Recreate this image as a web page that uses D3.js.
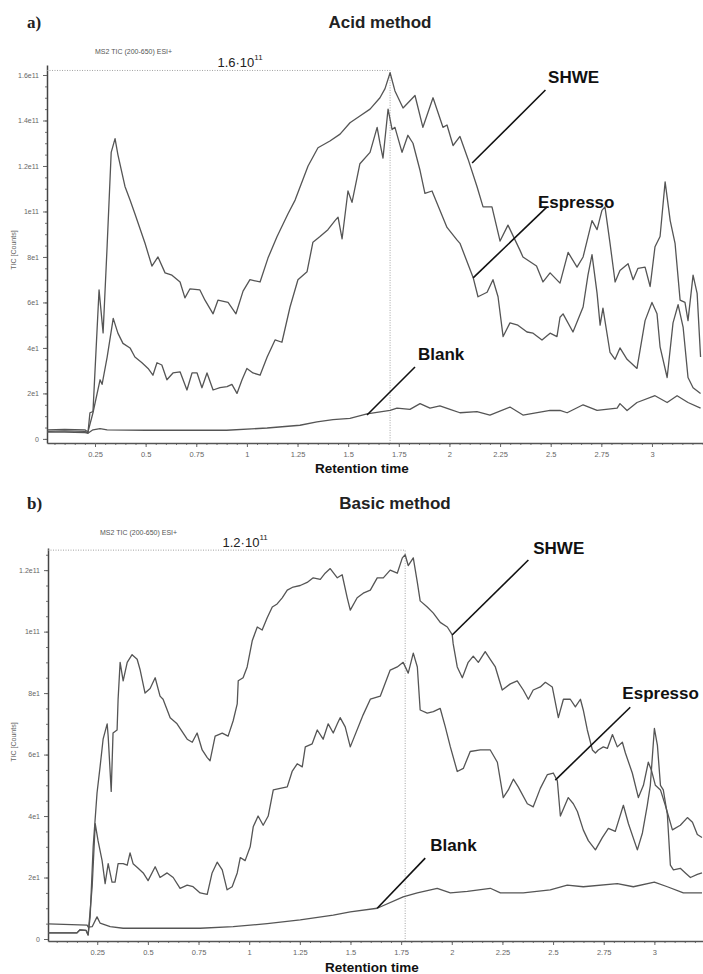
<!DOCTYPE html>
<html>
<head>
<meta charset="utf-8">
<script src="https://cdn.jsdelivr.net/npm/d3@7"></script>
<style>
  body { margin: 0; background: #fff; }
  svg { display: block; }
</style>
</head>
<body>
<script>
// chromatograms (retention time, TIC in 1e10 counts)

var acidShwe = [
  [0.013,0.33],[0.1,0.35],[0.2,0.33],[0.215,0.25],[0.225,1.15],[0.24,1.2],[0.27,6.55],[0.29,4.66],
  [0.31,8.5],[0.33,12.6],[0.349,13.2],[0.363,12.5],[0.398,11.1],[0.423,10.5],[0.447,9.9],[0.497,8.6],
  [0.531,7.6],[0.561,8.0],[0.596,7.3],[0.63,7.2],[0.67,6.9],[0.694,6.2],[0.719,6.6],[0.768,6.55],
  [0.793,6.1],[0.833,5.5],[0.857,6.1],[0.907,6.0],[0.946,5.5],[0.981,6.5],[1.015,7.0],[1.065,6.9],
  [1.104,7.95],[1.149,8.9],[1.203,9.9],[1.238,10.5],[1.302,12.0],[1.351,12.8],[1.41,13.1],[1.46,13.4],
  [1.509,13.9],[1.558,14.2],[1.608,14.5],[1.657,15.0],[1.682,15.4],[1.707,16.1],[1.731,15.3],[1.771,14.55],
  [1.83,15.1],[1.869,13.7],[1.919,15.0],[1.968,13.7],[1.988,13.8],[2.018,12.9],[2.052,13.3],[2.092,12.3],
  [2.136,11.1],[2.166,10.2],[2.21,10.2],[2.25,8.7],[2.289,9.4],[2.348,8.3],[2.363,8.0],[2.43,7.6],
  [2.462,6.9],[2.497,7.3],[2.546,6.85],[2.586,8.2],[2.63,7.55],[2.66,8.0],[2.704,9.6],[2.729,9.2],
  [2.753,10.05],[2.768,10.2],[2.793,8.6],[2.818,6.9],[2.842,7.4],[2.882,7.7],[2.907,7.0],[2.931,7.5],
  [2.966,7.55],[2.991,6.7],[3.015,8.45],[3.04,8.9],[3.065,11.3],[3.09,9.6],[3.114,8.6],[3.139,6.1],
  [3.163,6.0],[3.178,5.2],[3.203,7.2],[3.223,6.4],[3.24,3.6]
];

var acidEspresso = [
  [0.013,0.4],[0.1,0.42],[0.2,0.4],[0.215,0.3],[0.24,1.15],[0.275,2.6],[0.285,2.4],[0.31,3.6],
  [0.34,5.3],[0.363,4.65],[0.388,4.2],[0.423,4.0],[0.447,3.6],[0.482,3.35],[0.512,3.1],[0.536,2.8],
  [0.556,3.35],[0.58,3.25],[0.605,2.6],[0.635,2.9],[0.67,2.95],[0.704,2.15],[0.729,2.9],[0.754,2.9],
  [0.778,2.25],[0.803,2.9],[0.833,2.15],[0.867,2.25],[0.902,2.3],[0.926,2.4],[0.951,2.0],[0.976,2.6],
  [1.0,3.1],[1.03,2.9],[1.065,2.8],[1.1,3.6],[1.139,4.35],[1.173,4.25],[1.213,5.8],[1.252,7.0],
  [1.297,7.35],[1.326,8.65],[1.361,8.9],[1.4,9.2],[1.435,9.6],[1.45,9.75],[1.47,8.8],[1.499,10.9],
  [1.519,10.4],[1.558,12.1],[1.608,12.6],[1.643,13.7],[1.657,13.0],[1.672,12.35],[1.697,14.5],[1.717,13.6],
  [1.731,13.7],[1.766,12.6],[1.795,13.35],[1.82,13.0],[1.855,11.8],[1.879,10.8],[1.914,10.9],[1.953,10.05],
  [1.988,9.3],[2.037,8.75],[2.052,8.6],[2.117,7.1],[2.141,6.25],[2.186,6.45],[2.215,7.0],[2.24,6.25],
  [2.265,4.5],[2.299,5.1],[2.338,5.0],[2.383,4.7],[2.413,4.65],[2.457,4.35],[2.497,4.65],[2.531,4.5],
  [2.546,5.35],[2.561,5.5],[2.61,4.7],[2.66,5.8],[2.684,7.2],[2.704,8.1],[2.729,6.4],[2.744,5.0],
  [2.758,5.75],[2.793,3.8],[2.818,3.5],[2.842,4.0],[2.877,3.5],[2.926,3.1],[2.966,5.2],[3.0,6.0],
  [3.025,5.5],[3.04,4.05],[3.075,2.7],[3.104,5.1],[3.129,5.9],[3.154,4.9],[3.178,2.7],[3.203,2.25],
  [3.24,2.0]
];

var acidBlank = [
  [0.013,0.3],[0.1,0.3],[0.2,0.28],[0.215,0.25],[0.24,0.4],[0.275,0.45],[0.31,0.4],[0.5,0.38],
  [0.9,0.38],[1.1,0.48],[1.262,0.6],[1.346,0.75],[1.425,0.85],[1.509,0.9],[1.593,1.1],[1.707,1.25],
  [1.741,1.35],[1.805,1.3],[1.855,1.55],[1.904,1.35],[1.953,1.45],[2.003,1.3],[2.052,1.15],[2.136,1.2],
  [2.2,1.05],[2.299,1.4],[2.363,1.05],[2.497,1.25],[2.546,1.25],[2.581,1.15],[2.66,1.5],[2.729,1.25],
  [2.828,1.35],[2.842,1.55],[2.877,1.25],[2.926,1.6],[3.015,1.9],[3.075,1.6],[3.124,1.9],[3.178,1.6],
  [3.24,1.35]
];

var basicShwe = [
  [0.007,0.2],[0.15,0.2],[0.165,0.3],[0.195,0.28],[0.205,0.13],[0.215,0.72],[0.23,3.0],[0.249,4.75],
  [0.264,5.6],[0.279,6.5],[0.299,7.0],[0.304,6.6],[0.319,4.8],[0.328,6.7],[0.348,6.8],[0.353,7.8],
  [0.363,9.0],[0.378,8.4],[0.398,9.0],[0.422,9.25],[0.447,9.1],[0.462,8.75],[0.486,8.0],[0.511,8.15],
  [0.536,8.5],[0.56,7.9],[0.575,7.8],[0.61,7.2],[0.644,7.0],[0.694,6.5],[0.719,6.4],[0.743,6.7],
  [0.768,6.15],[0.793,5.9],[0.807,5.8],[0.832,6.6],[0.867,6.7],[0.896,6.6],[0.921,7.1],[0.941,7.65],
  [0.946,8.4],[0.97,8.5],[0.99,8.85],[1.015,9.7],[1.04,10.15],[1.064,10.05],[1.089,10.45],[1.114,10.8],
  [1.138,10.9],[1.163,11.1],[1.188,11.35],[1.217,11.45],[1.252,11.5],[1.286,11.6],[1.316,11.75],[1.351,11.7],
  [1.375,11.9],[1.4,12.05],[1.435,11.75],[1.459,11.85],[1.484,11.1],[1.499,10.7],[1.533,11.1],[1.563,11.25],
  [1.598,11.35],[1.632,11.75],[1.662,11.75],[1.696,12.0],[1.731,11.9],[1.756,12.4],[1.77,12.5],[1.785,12.15],
  [1.81,12.4],[1.83,11.6],[1.844,11.0],[1.879,10.8],[1.909,10.6],[1.943,10.3],[1.978,10.15],[2.002,9.9],
  [2.007,9.6],[2.027,8.85],[2.052,8.5],[2.081,9.0],[2.106,9.2],[2.131,9.0],[2.165,9.35],[2.19,9.1],
  [2.215,8.85],[2.249,8.1],[2.289,8.3],[2.323,8.4],[2.353,8.1],[2.378,7.8],[2.402,8.1],[2.437,8.2],
  [2.462,8.35],[2.496,8.2],[2.526,7.2],[2.551,7.8],[2.585,7.8],[2.61,7.55],[2.635,7.8],[2.649,7.45],
  [2.669,6.8],[2.694,6.15],[2.709,6.05],[2.723,6.15],[2.748,6.25],[2.768,6.2],[2.793,6.65],[2.817,6.25],
  [2.842,6.4],[2.857,6.05],[2.891,5.4],[2.921,4.6],[2.946,5.0],[2.97,5.75],[2.985,5.5],[3.005,5.0],
  [3.03,4.85],[3.054,4.35],[3.089,3.55],[3.128,3.7],[3.163,3.95],[3.188,3.8],[3.212,3.4],[3.235,3.3]
];

var basicEspresso = [
  [0.007,0.2],[0.15,0.2],[0.165,0.3],[0.195,0.28],[0.205,0.13],[0.225,1.7],[0.24,3.75],[0.254,3.2],
  [0.274,2.55],[0.289,1.8],[0.304,2.45],[0.323,1.85],[0.338,1.85],[0.353,2.45],[0.378,2.45],[0.398,2.4],
  [0.412,2.8],[0.427,2.45],[0.452,2.3],[0.477,2.15],[0.501,1.9],[0.536,2.35],[0.56,2.0],[0.595,2.15],
  [0.625,2.0],[0.659,1.65],[0.694,1.75],[0.723,1.7],[0.758,1.5],[0.793,1.45],[0.817,2.15],[0.842,2.5],
  [0.867,2.25],[0.891,1.6],[0.916,1.7],[0.941,2.15],[0.956,2.65],[0.98,2.55],[1.005,3.0],[1.02,3.65],
  [1.044,4.0],[1.069,3.7],[1.094,4.0],[1.119,4.85],[1.153,4.9],[1.188,4.95],[1.212,5.45],[1.237,5.7],
  [1.262,5.6],[1.277,6.25],[1.311,6.35],[1.336,6.8],[1.365,6.5],[1.39,7.0],[1.415,6.7],[1.435,7.0],
  [1.449,7.2],[1.474,6.9],[1.499,6.25],[1.563,7.3],[1.598,7.8],[1.647,7.9],[1.696,8.75],[1.731,8.85],
  [1.76,9.0],[1.785,8.65],[1.81,9.3],[1.83,8.85],[1.844,7.45],[1.879,7.35],[1.909,7.4],[1.943,7.5],
  [1.968,6.9],[1.993,6.25],[2.027,5.45],[2.057,5.55],[2.091,6.1],[2.141,6.15],[2.19,6.15],[2.225,5.75],
  [2.254,4.6],[2.279,4.85],[2.304,5.2],[2.328,4.95],[2.373,4.4],[2.402,4.3],[2.437,4.9],[2.472,5.35],
  [2.501,5.4],[2.521,5.15],[2.536,4.0],[2.575,4.6],[2.6,4.4],[2.62,4.15],[2.649,3.55],[2.674,3.2],
  [2.709,2.9],[2.743,3.3],[2.773,3.6],[2.807,3.5],[2.847,4.35],[2.872,3.75],[2.916,2.9],[2.941,3.45],
  [2.965,4.35],[2.98,5.0],[3.0,6.85],[3.015,6.3],[3.03,5.0],[3.044,4.85],[3.064,4.05],[3.079,2.4],
  [3.094,2.25],[3.128,2.3],[3.153,2.15],[3.178,2.0],[3.212,2.1],[3.235,2.15]
];

var basicBlank = [
  [0.007,0.49],[0.2,0.45],[0.205,0.39],[0.225,0.4],[0.249,0.72],[0.264,0.52],[0.314,0.4],[0.378,0.35],
  [0.758,0.35],[0.921,0.4],[1.089,0.5],[1.252,0.62],[1.415,0.78],[1.499,0.88],[1.632,1.0],[1.76,1.37],
  [1.83,1.5],[1.928,1.65],[1.993,1.5],[2.077,1.55],[2.19,1.65],[2.24,1.5],[2.353,1.5],[2.486,1.6],
  [2.57,1.75],[2.649,1.7],[2.817,1.8],[2.896,1.7],[3.0,1.85],[3.064,1.7],[3.143,1.5],[3.235,1.5]
];

// ticks
var xTicks = [0.25,0.5,0.75,1,1.25,1.5,1.75,2,2.25,2.5,2.75,3];
var xTickLabels = ["0.25","0.5","0.75","1","1.25","1.5","1.75","2","2.25","2.5","2.75","3"];
var yTicksA = [0,2,4,6,8,10,12,14,16];
var yTickLabelsA = ["0","2e1","4e1","6e1","8e1","1e11","1.2e11","1.4e11","1.6e11"];
var yTicksB = [0,2,4,6,8,10,12];
var yTickLabelsB = ["0","2e1","4e1","6e1","8e1","1e11","1.2e11"];

// peak marker: retention time, level, label position (t), label, exponent
var peakA = [1.707, 16.2, 0.966, "1.6·10", "11"];
var peakB = [1.77, 12.65, 0.98, "1.2·10", "11"];

// callouts: name, point on curve (t,v), line end (t,v), label anchor (t,v)
var calloutsA = [
  ["SHWE", 2.112, 12.13, 2.474, 15.34, 2.487, 15.65],
  ["Espresso", 2.117, 7.08, 2.482, 10.2, 2.437, 10.15],
  ["Blank", 1.593, 1.05, 1.83, 3.16, 1.845, 3.47]
];
var calloutsB = [
  ["SHWE", 2.002, 9.89, 2.378, 12.33, 2.402, 12.52],
  ["Espresso", 2.511, 5.17, 2.881, 7.54, 2.842, 7.8],
  ["Blank", 1.632, 1.0, 1.869, 2.63, 1.894, 2.86]
];

var W = 703, H = 974;
var svg = d3.select("body").append("svg").attr("width", W).attr("height", H);

function drawPanel(p){
  var g = svg.append("g");
  var x = d3.scaleLinear().domain(p.xDom).range([p.left, p.right]);
  var y = d3.scaleLinear().domain(p.yDom).range([p.bottom, p.top]);

  // panel letter and title
  g.append("text").attr("x", 27).attr("y", p.titleY)
    .attr("font-family", "Liberation Serif, DejaVu Serif, serif").attr("font-weight", "bold")
    .attr("font-size", 17).attr("fill", "#222").text(p.letter);
  g.append("text").attr("x", p.titleX).attr("y", p.titleY).attr("text-anchor", "middle")
    .attr("font-family", "Liberation Sans, Arial, sans-serif").attr("font-weight", "bold")
    .attr("font-size", 17).attr("fill", "#222").text(p.title);

  g.append("text").attr("x", p.msX).attr("y", p.msY)
    .attr("font-family", "Liberation Sans, Arial, sans-serif").attr("font-size", 7)
    .attr("fill", "#555").text("MS2 TIC (200-650) ESI+");

  // x axis: minor + major ticks
  var minor = d3.range(0.05, p.xDom[1], 0.05).filter(function(d){ return d > p.xDom[0]; });
  g.append("g").attr("transform", "translate(0," + p.bottom + ")")
    .call(d3.axisBottom(x).tickValues(minor).tickSize(2).tickFormat(""))
    .call(function(a){ a.select(".domain").remove(); a.selectAll("line").attr("stroke", "#777"); });
  var xa = g.append("g").attr("transform", "translate(0," + p.bottom + ")")
    .call(d3.axisBottom(x).tickValues(xTicks).tickSize(4).tickSizeOuter(0)
      .tickFormat(function(d, i){ return xTickLabels[i]; }));
  xa.select(".domain").attr("stroke", "#555").attr("stroke-width", 1.3);
  xa.selectAll("line").attr("stroke", "#666");
  xa.selectAll("text").attr("fill", "#666").attr("font-size", 7.5)
    .attr("font-family", "Liberation Sans, Arial, sans-serif").attr("dy", "0.9em");

  // y axis
  var yminor = d3.range(0, p.yDom[1], 0.5);
  g.append("g").attr("transform", "translate(" + p.left + ",0)")
    .call(d3.axisLeft(y).tickValues(yminor).tickSize(2).tickFormat(""))
    .call(function(a){ a.select(".domain").remove(); a.selectAll("line").attr("stroke", "#777"); });
  var ya = g.append("g").attr("transform", "translate(" + p.left + ",0)")
    .call(d3.axisLeft(y).tickValues(p.yTicks).tickSize(4).tickSizeOuter(0)
      .tickFormat(function(d, i){ return p.yLabels[i]; }));
  ya.select(".domain").attr("stroke", "#444").attr("stroke-width", 1.5);
  ya.selectAll("line").attr("stroke", "#666");
  ya.selectAll("text").attr("fill", "#666").attr("font-size", 7)
    .attr("font-family", "Liberation Sans, Arial, sans-serif").attr("dx", "-1");

  g.append("text")
    .attr("transform", "translate(16," + p.yLabelY + ") rotate(-90)")
    .attr("text-anchor", "middle").attr("font-family", "Liberation Sans, Arial, sans-serif")
    .attr("font-size", 7).attr("fill", "#666").text("TIC [Counts]");

  g.append("text").attr("x", p.xLabelX).attr("y", p.xLabelY).attr("text-anchor", "middle")
    .attr("font-family", "Liberation Sans, Arial, sans-serif").attr("font-weight", "bold")
    .attr("font-size", 13.5).attr("fill", "#111").text("Retention time");

  // dotted peak guides
  var pk = p.peak;
  g.append("path")
    .attr("d", "M" + p.left + "," + y(pk[1]) + "H" + x(pk[0]) + "V" + p.bottom)
    .attr("fill", "none").attr("stroke", "#999").attr("stroke-width", 0.9)
    .attr("stroke-dasharray", "1,1.5");
  var pt = g.append("text").attr("x", x(pk[2])).attr("y", y(pk[1]) - 3)
    .attr("text-anchor", "middle").attr("font-family", "Liberation Sans, Arial, sans-serif")
    .attr("font-size", 13).attr("fill", "#222");
  pt.append("tspan").text(pk[3]);
  pt.append("tspan").attr("font-size", 8).attr("dy", -7).text(pk[4]);

  // curves
  var line = d3.line().x(function(d){ return x(d[0]); }).y(function(d){ return y(d[1]); });
  p.series.forEach(function(s){
    g.append("path").datum(s).attr("d", line)
      .attr("fill", "none").attr("stroke", "#555").attr("stroke-width", 1.3)
      .attr("stroke-linejoin", "round");
  });

  // callouts
  p.callouts.forEach(function(c){
    g.append("line").attr("x1", x(c[1])).attr("y1", y(c[2])).attr("x2", x(c[3])).attr("y2", y(c[4]))
      .attr("stroke", "#111").attr("stroke-width", 1.6);
    g.append("text").attr("x", x(c[5])).attr("y", y(c[6]))
      .attr("font-family", "Liberation Sans, Arial, sans-serif").attr("font-weight", "bold")
      .attr("font-size", 17).attr("fill", "#111").text(c[0]);
  });
}

drawPanel({
  letter: "a)", title: "Acid method", titleX: 380, titleY: 28,
  msX: 95, msY: 54,
  left: 47, right: 703, top: 65, bottom: 443,
  xDom: [0.013, 3.252], yDom: [-0.18, 16.44],
  yTicks: yTicksA, yLabels: yTickLabelsA, yLabelY: 250,
  xLabelX: 362, xLabelY: 473,
  peak: peakA, series: [acidShwe, acidEspresso, acidBlank], callouts: calloutsA
});

drawPanel({
  letter: "b)", title: "Basic method", titleX: 395, titleY: 509,
  msX: 100, msY: 535,
  left: 48, right: 703, top: 548, bottom: 941,
  xDom: [0.007, 3.24], yDom: [-0.065, 12.72],
  yTicks: yTicksB, yLabels: yTickLabelsB, yLabelY: 742,
  xLabelX: 372, xLabelY: 972,
  peak: peakB, series: [basicShwe, basicEspresso, basicBlank], callouts: calloutsB
});
</script>
</body>
</html>
